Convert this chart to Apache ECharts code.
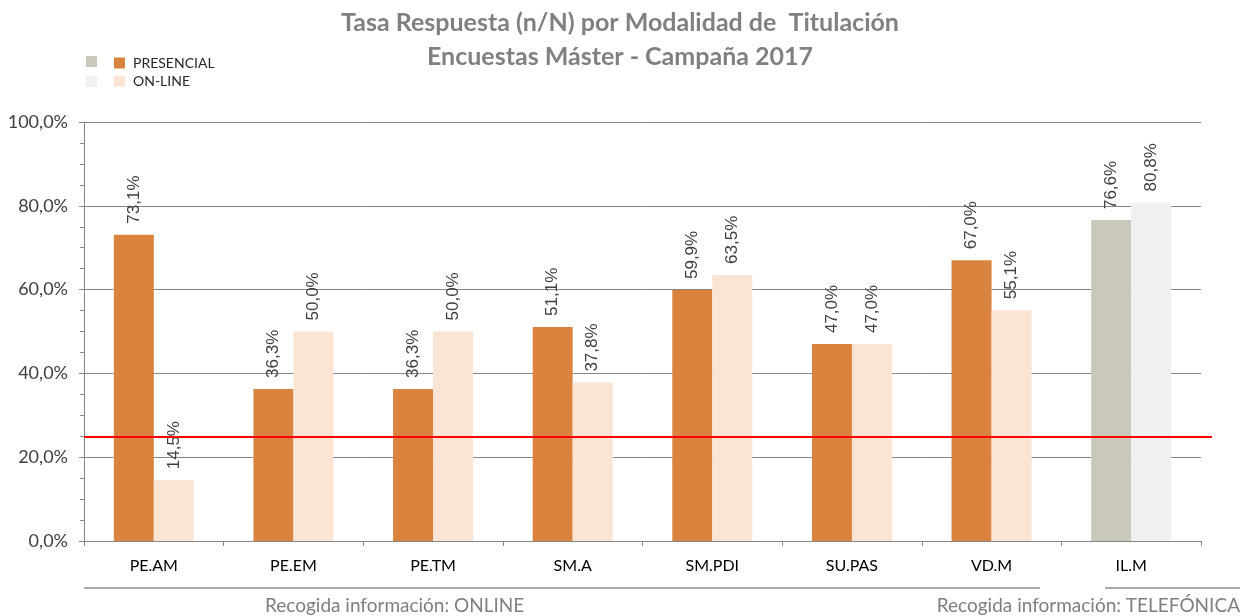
<!DOCTYPE html>
<html>
  <head>
    <meta charset="UTF-8">
    <title>Tasa Respuesta por Modalidad</title>
    <script src="https://cdn.jsdelivr.net/npm/echarts@6/dist/echarts.min.js"></script>
    <style>
      html, body { margin: 0; padding: 0; background: #fff; }
      #main { width: 1240px; height: 616px; }
    </style>
  </head>
  <body>
    <div id="main"></div>
    <script>
      // datos
      var categories = ['PE.AM', 'PE.EM', 'PE.TM', 'SM.A', 'SM.PDI', 'SU.PAS', 'VD.M', 'IL.M'];
      var presencial = [73.1, 36.3, 36.3, 51.1, 59.9, 47.0, 67.0, 76.6];
      var online = [14.5, 50.0, 50.0, 37.8, 63.5, 47.0, 55.1, 80.8];
      var umbral = 25;
      var yTicks = [0, 20, 40, 60, 80, 100];
      // la ultima categoria se recoge por telefono
      var telefonica = ['IL.M'];

      var colPres = '#DA833E', colOnline = '#FCE4D5';
      var colPresTel = '#C9C8BA', colOnlineTel = '#F0F0F0';

      function pct(v) {
        return v.toFixed(1).replace('.', ',') + '%';
      }

      function buildData(values, telColor) {
        return values.map(function (v, i) {
          if (telefonica.indexOf(categories[i]) >= 0) {
            return { value: v, itemStyle: { color: telColor } };
          }
          return v;
        });
      }

      var barLabel = {
        show: true,
        position: 'top',
        rotate: 90,
        align: 'left',
        verticalAlign: 'middle',
        distance: 11,
        fontFamily: 'Liberation Sans',
        fontSize: 17,
        color: '#404040',
        formatter: function (p) { return pct(p.value); }
      };

      var myChart = echarts.init(document.getElementById('main'));
      var option = {
        backgroundColor: '#ffffff',
        animation: false,
        title: {
          text: 'Tasa Respuesta (n/N) por Modalidad de  Titulación\nEncuestas Máster - Campaña 2017',
          left: 'center',
          top: 1,
          textStyle: {
            fontFamily: 'Lato',
            fontWeight: 'bold',
            fontSize: 25,
            lineHeight: 34,
            color: '#808080'
          }
        },
        legend: {
          orient: 'vertical',
          left: 109,
          top: 51,
          icon: 'rect',
          itemWidth: 11,
          itemHeight: 11,
          itemGap: 4,
          textStyle: {
            fontFamily: 'Lato',
            fontSize: 14,
            color: '#262626',
            padding: [0, 0, 0, 3]
          },
          data: ['PRESENCIAL', 'ON-LINE']
        },
        grid: { left: 84, right: 39, top: 122, bottom: 75 },
        xAxis: {
          type: 'category',
          data: categories,
          axisLine: { lineStyle: { color: '#868686', width: 1 } },
          axisTick: { show: true, length: 5, lineStyle: { color: '#868686' } },
          axisLabel: {
            margin: 17,
            fontFamily: 'Lato',
            fontSize: 16,
            color: '#000000'
          }
        },
        yAxis: {
          type: 'value',
          min: yTicks[0],
          max: yTicks[yTicks.length - 1],
          interval: 20,
          axisLine: { show: true, lineStyle: { color: '#868686' } },
          axisTick: { show: true, length: 5, lineStyle: { color: '#868686' } },
          minorTick: { show: true, splitNumber: 4, length: 4, lineStyle: { color: '#868686' } },
          splitLine: { show: true, lineStyle: { color: '#868686', width: 1 } },
          axisLabel: {
            margin: 16,
            fontFamily: 'Lato',
            fontSize: 18,
            color: '#404040',
            formatter: function (v) { return pct(v); }
          }
        },
        series: [
          {
            name: 'PRESENCIAL',
            type: 'bar',
            barWidth: 40,
            barGap: '0%',
            itemStyle: { color: colPres },
            label: barLabel,
            data: buildData(presencial, colPresTel)
          },
          {
            name: 'ON-LINE',
            type: 'bar',
            barWidth: 40,
            barGap: '0%',
            itemStyle: { color: colOnline },
            label: barLabel,
            data: buildData(online, colOnlineTel)
          }
        ],
        graphic: [
          // cuadros grises de la leyenda (recogida telefonica)
          { type: 'rect', left: 86, top: 56, shape: { width: 11, height: 11 }, style: { fill: colPresTel } },
          { type: 'rect', left: 86, top: 76, shape: { width: 11, height: 11 }, style: { fill: colOnlineTel } },
          // separadores inferiores
          { type: 'line', shape: { x1: 84, y1: 588, x2: 1040, y2: 588 }, style: { stroke: '#8c8c8c', lineWidth: 1.5 } },
          { type: 'line', shape: { x1: 1105, y1: 588, x2: 1240, y2: 588 }, style: { stroke: '#8c8c8c', lineWidth: 1.5 } },
          {
            type: 'text', left: 265, top: 596,
            style: { text: 'Recogida información: ONLINE', font: '19px Lato', fill: '#7f7f7f' }
          },
          {
            type: 'text', right: 0, top: 596,
            style: { text: 'Recogida información: TELEFÓNICA', font: '19px Lato', fill: '#7f7f7f' }
          }
        ]
      };
      myChart.setOption(option);

      // linea roja del umbral: sale un poco por la derecha del area del grafico
      var yUmbral = myChart.convertToPixel({ yAxisIndex: 0 }, umbral);
      myChart.setOption({
        series: [{
          name: 'PRESENCIAL',
          markLine: {
            silent: true,
            symbol: 'none',
            z: 5,
            label: { show: false },
            lineStyle: { color: '#ff0000', width: 2, type: 'solid' },
            data: [[{ x: 84, y: yUmbral }, { x: 1212, y: yUmbral }]]
          }
        }]
      });
    </script>
  </body>
</html>
